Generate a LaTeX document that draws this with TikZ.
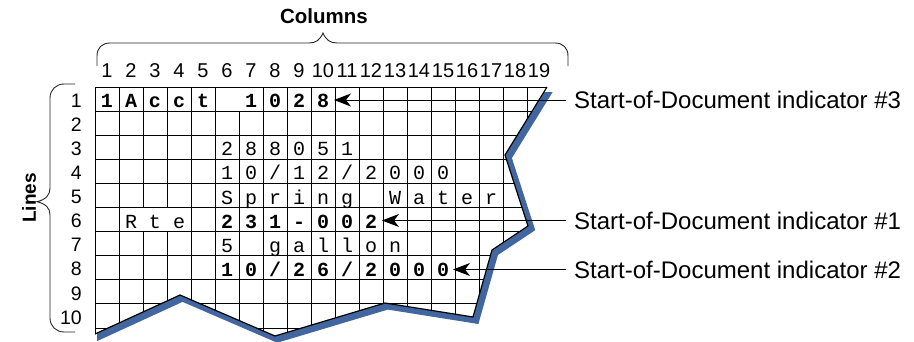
\documentclass[tikz,border=0pt]{standalone}
\usepackage{fontspec}
\setmainfont{Liberation Sans}
\newfontfamily\courfont{Liberation Mono}
\usetikzlibrary{arrows.meta}
\definecolor{tearblue}{RGB}{66,102,160}
\newcommand\cellrun[5]{%
  \foreach \ch [count=\i from #4] in {#5} {\node[#1] (c#2-\i) at ({83+24*\i},#3) {\ch};}}
\begin{document}
\begin{tikzpicture}[x=1pt,y=1pt,
  gridline/.style={line width=0.95pt,black,line cap=rect},
  cellreg/.style={font=\courfont\fontsize{20}{20}\selectfont, anchor=base, inner sep=0pt},
  cellbold/.style={font=\courfont\bfseries\fontsize{20}{20}\selectfont, anchor=base, inner sep=0pt},
  numlab/.style={font=\fontsize{20}{20}\selectfont, inner sep=0pt},
  rowlab/.style={font=\fontsize{19.5}{20}\selectfont, inner sep=0pt, anchor=east},
  callout/.style={font=\fontsize{24}{24}\selectfont, anchor=west, inner xsep=8pt, inner ysep=0pt},
  pointer/.style={line width=1pt, -{Stealth[length=17pt,width=13pt,inset=5pt]}},
  bracestyle/.style={line width=0.9pt, black!85},
  titlelab/.style={font=\bfseries\fontsize{20.5}{21}\selectfont, inner sep=0pt}
]
\useasboundingbox (0,0) rectangle (914,-341);

% blue shadow of the torn edge
\begin{scope}
  \clip (97,-92.5) rectangle (914,-345);
  \draw[tearblue, line width=8pt, line join=miter, miter limit=10]
    (557.4,-76.7) -- (549.5,-89.5) -- (507.5,-157.5) -- (530.5,-228.5) -- (494.5,-252.5)
    -- (475.5,-319.5) -- (387.5,-305.5) -- (277.5,-338.5) -- (182.5,-297.5) -- (97.5,-336.5) -- (70,-349.1);
\end{scope}

% paper
\fill[white] (95,-87) -- (547,-87) -- (505,-155) -- (528,-226) -- (492,-250) -- (473,-317)
  -- (385,-303) -- (275,-336) -- (180,-295) -- (95,-334) -- cycle;

% grid
\begin{scope}
  \clip (90,-82) -- (550.1,-82) -- (505,-155) -- (528,-226) -- (492,-250) -- (473,-317)
    -- (385,-303) -- (275,-336) -- (180,-295) -- (95,-334) -- (90,-336.3) -- cycle;
  \foreach \k in {0,1,4,5,7,8,...,19}
    \draw[gridline] ({95+24*\k},-87) -- ({95+24*\k},-360);
  \draw[gridline] (239,-111.1) -- (239,-360);
  \foreach \k in {143,167} {
    \draw[gridline] (\k,-87) -- (\k,-207.5);
    \draw[gridline] (\k,-231.6) -- (\k,-360);
  }
  \foreach \j in {0,...,11}
    \draw[gridline] (95,{-87-24.1*\j}) -- (600,{-87-24.1*\j});
\end{scope}

% torn edge line
\draw[line width=1.2pt, line join=miter] (547,-87) -- (505,-155) -- (528,-226) -- (492,-250)
  -- (473,-317) -- (385,-303) -- (275,-336) -- (180,-295) -- (95,-334);

% cell contents
\cellrun{cellbold}{1}{-107.6}{1}{1,A,c,c,t}
\cellrun{cellbold}{1}{-107.6}{7}{1,0,2,8}
\cellrun{cellreg}{3}{-155.8}{6}{2,8,8,0,5,1}
\cellrun{cellreg}{4}{-179.9}{6}{1,0,/,1,2,/,2,0,0,0}
\cellrun{cellreg}{5}{-204}{6}{S,p,r,i,n,g}
\cellrun{cellreg}{5}{-204}{13}{W,a,t,e,r}
\cellrun{cellreg}{6}{-228.1}{2}{R,t,e}
\cellrun{cellbold}{6}{-228.1}{6}{2,3,1,-,0,0,2}
\cellrun{cellreg}{7}{-252.2}{6}{5}
\cellrun{cellreg}{7}{-252.2}{8}{g,a,l,l,o,n}
\cellrun{cellbold}{8}{-276.3}{6}{1,0,/,2,6,/,2,0,0,0}

% column numbers
\foreach \k in {1,...,19}
  \node[numlab] (col\k) at ({83+24*\k},-71) {\k};
% row numbers
\foreach \r in {1,...,10}
  \node[rowlab] (row\r) at (82,{-87-24.1*(\r-0.5)-1.5}) {\r};

% braces and titles
\draw[bracestyle] (97,-66) -- (97,-56) .. controls (97,-48) and (102,-43) .. (110,-43)
  -- (309,-43) .. controls (316,-43) and (320,-40) .. (323,-33)
  .. controls (326,-40) and (330,-43) .. (337,-43) -- (555,-43)
  .. controls (563,-43) and (568,-48) .. (568,-56) -- (568,-66);
\node[titlelab] (coltitle) at (324,-16.5) {Columns};

\draw[bracestyle] (75,-84) -- (64,-84) .. controls (56,-84) and (50,-90) .. (50,-98)
  -- (50,-188) .. controls (50,-195) and (46,-199.5) .. (37,-201.7)
  .. controls (46,-204) and (50,-208) .. (50,-215) -- (50,-318)
  .. controls (50,-326) and (56,-332) .. (64,-332) -- (75,-332);
\node[titlelab, font=\bfseries\fontsize{19}{20}\selectfont, rotate=90] (linetitle) at (29,-198) {Lines};

% callouts
\node[callout] (l3) at (566,-100) {Start-of-Document indicator \#3};
\node[callout] (l1) at (566,-220.5) {Start-of-Document indicator \#1};
\node[callout] (l2) at (566,-269.5) {Start-of-Document indicator \#2};
\coordinate (t3) at (334,-100);
\coordinate (t1) at (382,-220.5);
\coordinate (t2) at (453,-269.5);
\draw[pointer] (l3.west) -- (t3);
\draw[pointer] (l1.west) -- (t1);
\draw[pointer] (l2.west) -- (t2);
\end{tikzpicture}
\end{document}
